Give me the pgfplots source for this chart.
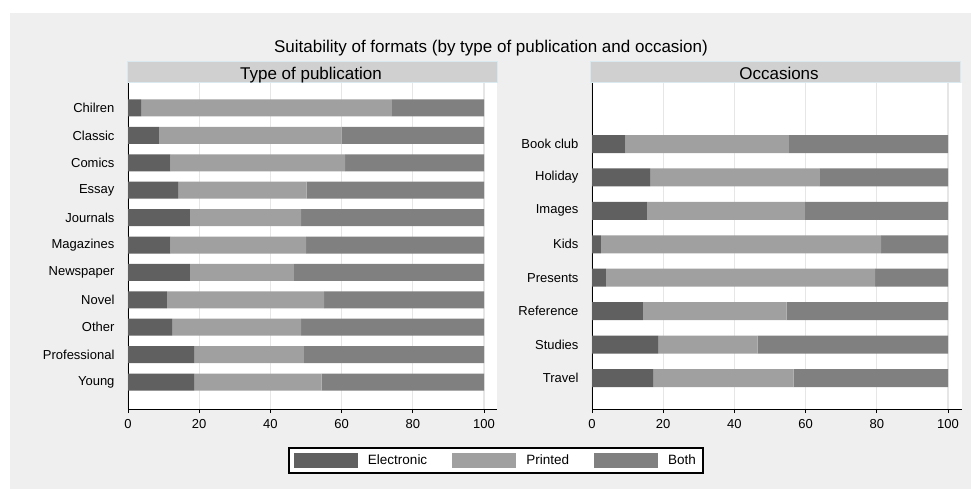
\documentclass[border=0pt]{standalone}
\usepackage{pgfplots}
\pgfplotsset{compat=1.18}
\usepackage{pgfplotstable}
\usepackage{fontspec}
\setmainfont{Liberation Sans}

\definecolor{elec}{HTML}{606060}
\definecolor{print}{HTML}{A0A0A0}
\definecolor{both}{HTML}{808080}
\definecolor{bggray}{HTML}{EFEFEF}
\definecolor{gridgray}{HTML}{E6E6E6}
\definecolor{hdrfill}{HTML}{D0D0D0}
\definecolor{hdrline}{HTML}{DAE8F0}

% idx = row from the top; e, p, b = Electronic, Printed, Both (percent)
\pgfplotstableread{
idx e p b
0 3.7 70.4 25.9
1 8.7 51.3 40.0
2 11.9 49.1 39.0
3 14.1 36.1 49.8
4 17.4 31.2 51.4
5 11.9 38.1 50.0
6 17.4 29.2 53.4
7 10.9 44.2 44.9
8 12.4 36.2 51.4
9 18.6 30.8 50.6
10 18.6 35.8 45.6
}\pubdata

\pgfplotstableread{
idx e p b
0 9.4 45.9 44.7
1 16.3 47.7 36.0
2 15.4 44.4 40.2
3 2.5 78.7 18.8
4 3.9 75.6 20.5
5 14.3 40.4 45.3
6 18.6 27.9 53.5
7 17.2 39.4 43.4
}\occdata

\pgfplotsset{
  panel/.style={
    scale only axis,
    height=326pt,
    xbar stacked,
    enlargelimits=false,
    axis background/.style={fill=white},
    axis x line*=bottom,
    axis y line*=left,
    axis line style={-, black, line width=1pt},
    xmin=0,
    xtick={0,20,...,100},
    tick align=outside,
    major tick length=4pt,
    xtick style={black, line width=0.8pt},
    ytick style={draw=none},
    xmajorgrids,
    major grid style={gridgray, line width=1.2pt},
    y dir=reverse,
    ytick={0,...,10},
    tick label style={font=\fontsize{13}{13}\selectfont},
    xticklabel style={yshift=-3pt},
    yticklabel style={xshift=-6pt},
    /pgf/number format/assume math mode=true,
    legend image code/.code={\fill[##1] (0pt,-7.5pt) rectangle (64pt,7.5pt);},
  },
}

\begin{document}
\begin{tikzpicture}
\useasboundingbox (0,0) rectangle (971pt,489pt);
\fill[white] (0,0) rectangle (971pt,489pt);
\fill[bggray] (10pt,0) rectangle (971pt,476pt);

\begin{axis}[
  panel,
  at={(128pt,80pt)}, anchor=south west,
  width=369pt,
  xmax=103.65,
  ymin=-0.912, ymax=10.985,
  bar width=17pt,
  yticklabels={Chilren,Classic,Comics,Essay,Journals,Magazines,Newspaper,Novel,Other,Professional,Young},
  legend columns=3,
  legend style={at={(0.997,-0.158)}, anchor=center, draw=black, line width=1.5pt,
    fill=white, font=\fontsize{13.5}{13.5}\selectfont,
    inner xsep=5pt, inner ysep=5pt,
    /tikz/every odd column/.append style={column sep=8pt},
    /tikz/every even column/.append style={column sep=23pt}},
]
\addplot[fill=elec, draw=none] table[x=e, y=idx] {\pubdata};
\addplot[fill=print, draw=none] table[x=p, y=idx] {\pubdata};
\addplot[fill=both, draw=none] table[x=b, y=idx] {\pubdata};
\legend{Electronic, Printed, Both}
\end{axis}

\begin{axis}[
  panel,
  at={(592pt,80pt)}, anchor=south west,
  width=370pt,
  xmax=103.93,
  ymin=-1.825, ymax=7.927,
  bar width=18pt,
  ytick={0,...,7},
  yticklabels={Book club,Holiday,Images,Kids,Presents,Reference,Studies,Travel},
]
\addplot[fill=elec, draw=none] table[x=e, y=idx] {\occdata};
\addplot[fill=print, draw=none] table[x=p, y=idx] {\occdata};
\addplot[fill=both, draw=none] table[x=b, y=idx] {\occdata};
\end{axis}

\draw[hdrline, fill=hdrfill, line width=1pt] (127pt,406pt) rectangle (497pt,427pt);
\draw[hdrline, fill=hdrfill, line width=1pt] (590pt,406pt) rectangle (960pt,427pt);
\node[anchor=base, inner sep=0pt, font=\fontsize{17}{17}\selectfont] at (311pt,409pt) {Type of publication};
\node[anchor=base, inner sep=0pt, font=\fontsize{17}{17}\selectfont] at (779pt,409pt) {Occasions};
\node[anchor=base, inner sep=0pt, font=\fontsize{17}{17}\selectfont] at (491pt,436pt) {Suitability of formats (by type of publication and occasion)};
\end{tikzpicture}
\end{document}
